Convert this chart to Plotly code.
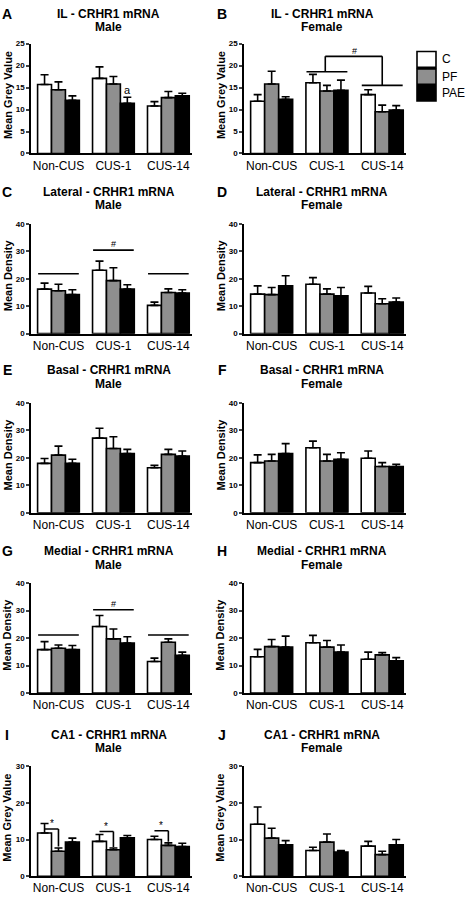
import plotly.graph_objects as go

# ---------------- data ----------------
groups = ["Non-CUS", "CUS-1", "CUS-14"]
series = ["C", "PF", "PAE"]
colors = ["#ffffff", "#8f8f8f", "#000000"]

# means / SEM, one list per series (C, PF, PAE) across groups
il_male_mean = [[15.7, 17.1, 10.8], [14.5, 15.8, 12.7], [12.1, 11.4, 13.1]]
il_male_sem = [[2.2, 2.6, 1.0], [1.8, 1.7, 1.4], [1.0, 1.4, 0.6]]

il_female_mean = [[11.9, 16.1, 13.4], [15.8, 14.2, 9.5], [12.3, 14.4, 9.9]]
il_female_sem = [[1.5, 1.9, 1.1], [2.9, 1.3, 1.5], [0.6, 2.3, 1.0]]

lat_male_mean = [[16.2, 23.1, 10.3], [15.6, 19.3, 15.0], [14.2, 16.2, 14.8]]
lat_male_sem = [[2.2, 3.3, 1.2], [2.4, 4.7, 1.3], [1.8, 1.6, 1.2]]

lat_female_mean = [[14.4, 18.0, 14.8], [14.2, 14.4, 10.9], [17.4, 13.8, 11.5]]
lat_female_sem = [[3.0, 2.4, 2.4], [2.6, 1.9, 1.8], [3.7, 3.0, 1.5]]

bas_male_mean = [[18.0, 27.2, 16.4], [21.0, 23.4, 21.3], [18.0, 21.6, 20.7]]
bas_male_sem = [[1.8, 3.6, 0.9], [3.3, 4.3, 1.8], [1.5, 1.5, 1.8]]

bas_female_mean = [[18.3, 23.7, 19.9], [18.9, 18.9, 16.9], [21.6, 19.5, 16.9]]
bas_female_sem = [[2.8, 2.4, 2.6], [2.4, 2.4, 1.4], [3.6, 2.4, 0.8]]

med_male_mean = [[15.8, 24.2, 11.5], [16.3, 19.7, 18.5], [15.8, 18.2, 13.7]]
med_male_sem = [[2.9, 4.0, 1.2], [1.2, 3.6, 1.2], [1.5, 2.3, 1.2]]

med_female_mean = [[13.2, 18.3, 12.3], [16.9, 16.7, 13.9], [16.7, 14.9, 11.7]]
med_female_sem = [[2.7, 2.7, 2.6], [2.6, 2.4, 0.8], [4.0, 2.6, 1.2]]

ca1_male_mean = [[11.8, 9.5, 10.0], [6.8, 7.2, 8.4], [9.3, 10.5, 8.1]]
ca1_male_sem = [[2.6, 1.9, 0.9], [0.9, 0.5, 0.7], [1.1, 0.6, 0.9]]

ca1_female_mean = [[14.2, 7.0, 8.2], [10.4, 9.3, 5.9], [8.6, 6.6, 8.6]]
ca1_female_sem = [[4.7, 0.9, 1.3], [2.7, 2.2, 0.9], [1.1, 0.4, 1.4]]

panel_letters = ["A", "B", "C", "D", "E", "F", "G", "H", "I", "J"]
panel_regions = ["IL", "IL", "Lateral", "Lateral", "Basal", "Basal",
                 "Medial", "Medial", "CA1", "CA1"]
panel_sex = ["Male", "Female"] * 5
y_titles = ["Mean Grey Value"] * 2 + ["Mean Density"] * 6 + ["Mean Grey Value"] * 2
y_max = [25, 25, 40, 40, 40, 40, 40, 40, 30, 30]
y_dtick = [5, 5, 10, 10, 10, 10, 10, 10, 10, 10]

panel_means = [il_male_mean, il_female_mean, lat_male_mean, lat_female_mean,
               bas_male_mean, bas_female_mean, med_male_mean, med_female_mean,
               ca1_male_mean, ca1_female_mean]
panel_sems = [il_male_sem, il_female_sem, lat_male_sem, lat_female_sem,
              bas_male_sem, bas_female_sem, med_male_sem, med_female_sem,
              ca1_male_sem, ca1_female_sem]

# ---------------- layout geometry (pixels) ----------------
W, H = 465, 900
FONT = "Liberation Sans, Arial, sans-serif"
col_x = [(31, 192), (244, 406)]
row_y = [(40, 151), (222, 333), (403, 514), (585, 696), (770, 881)]
title_off = [(30, 17), (32, 19), (33, 19), (32, 18), (32, 18)]
XR = [-0.5, 2.43]
BW = 0.76 / 3  # bar width in data units (bargap 0.24)


def px(x):
    return x / W


def py(y):
    return 1 - y / H


fig = go.Figure()
layout = dict(
    width=W, height=H, margin=dict(l=0, r=0, t=0, b=0),
    paper_bgcolor="white", plot_bgcolor="white",
    barmode="group", bargap=0.24, bargroupgap=0,
    font=dict(family=FONT, color="black"),
    showlegend=False,
)
annotations = []
shapes = []


def ann(x, y, text, size, xanchor="center", angle=0, xref="paper", yref="paper"):
    annotations.append(dict(x=x, y=y, xref=xref, yref=yref, text=text,
                            showarrow=False, textangle=angle,
                            font=dict(size=size, family=FONT, color="black"),
                            xanchor=xanchor, yanchor="middle"))


for i in range(10):
    n = i + 1
    col = i % 2
    row = i // 2
    xs = "" if n == 1 else str(n)
    x0, x1 = col_x[col]
    top, bot = row_y[row]
    for s in range(3):
        fig.add_trace(go.Bar(
            x=[0, 1, 2], y=panel_means[i][s], name=series[s],
            marker=dict(color=colors[s], line=dict(color="black", width=1.6)),
            error_y=dict(type="data", symmetric=False, array=panel_sems[i][s],
                         arrayminus=[0, 0, 0], color="black", thickness=1.6, width=4),
            xaxis="x" + xs, yaxis="y" + xs, legendgroup=series[s],
        ))
    layout["xaxis" + xs] = dict(
        domain=[px(x0), px(x1)], anchor="y" + xs, range=XR,
        tickvals=[0, 1, 2], ticktext=groups, ticks="",
        tickfont=dict(size=12, family=FONT),
        showline=True, linecolor="black", linewidth=1.6,
        showgrid=False, zeroline=False, fixedrange=True,
    )
    layout["yaxis" + xs] = dict(
        domain=[py(bot), py(top)], anchor="x" + xs, range=[0, y_max[i]],
        dtick=y_dtick[i], ticks="outside", ticklen=3, tickwidth=1.6,
        tickfont=dict(size=8, family=FONT, weight="bold"),
        showline=True, linecolor="black", linewidth=1.6,
        showgrid=False, zeroline=False, fixedrange=True,
    )
    # y-axis title
    ann(px(x0 - 23.5), py((top + bot) / 2 - 3), "<b>%s</b>" % y_titles[i], 11, angle=-90)
    # panel title (two lines)
    cx = (x0 + x1) / 2 - 3
    o1, o2 = title_off[row]
    ann(px(cx), py(top - o1), "<b>%s - CRHR1 mRNA</b>" % panel_regions[i], 12)
    ann(px(cx), py(top - o2), "<b>%s</b>" % panel_sex[i], 12)
    # panel letter
    ann(px(7 if col == 0 else 222), py(top - o1), "<b>%s</b>" % panel_letters[i], 14)

# ---------------- legend (drawn) ----------------
leg_boxes = [(48, 64), (65.5, 81), (82.5, 98)]
for s in range(3):
    yt, yb = leg_boxes[s]
    shapes.append(dict(type="rect", xref="paper", yref="paper",
                       x0=px(417), x1=px(436), y0=py(yb), y1=py(yt),
                       fillcolor=colors[s], line=dict(color="black", width=1.6)))
    ann(px(440), py((yt + yb) / 2), series[s], 12, xanchor="left")


def seg(ax, xa, ya, xb, yb):
    shapes.append(dict(type="line", xref="x" + ax, yref="y" + ax,
                       x0=xa, y0=ya, x1=xb, y1=yb,
                       line=dict(color="black", width=1.6)))


def txt(ax, x, y, t, size=9):
    ann(x, y, t, size, xref="x" + ax, yref="y" + ax)


# Panel A: "a"
txt("", 1 + BW, 14.4, "a", 11)

# Panel B: bracket between CUS-1 and CUS-14
seg("2", 0.63, 18.6, 1.37, 18.6)
seg("2", 1.63, 15.5, 2.37, 15.5)
seg("2", 0.97, 18.6, 0.97, 22.1)
seg("2", 0.97, 22.1, 2.0, 22.1)
seg("2", 2.0, 22.1, 2.0, 15.5)
txt("2", 1.5, 23.4, "#", 9)

# Panel C: group lines
for g, yv in zip([0, 1, 2], [21.8, 30.4, 21.8]):
    seg("3", g - 0.37, yv, g + 0.37, yv)
txt("3", 1.0, 32.6, "#", 9)

# Panel G: group lines
for g, yv in zip([0, 1, 2], [21.1, 30.3, 21.1]):
    seg("7", g - 0.37, yv, g + 0.37, yv)
txt("7", 1.0, 32.4, "#", 9)

# Panel I: C vs PF brackets
for g, yv, yend in zip([0, 1, 2], [12.9, 12.2, 12.4], [8.1, 8.0, 9.4]):
    seg("9", g - BW, yv, g, yv)
    seg("9", g, yv, g, yend)
    txt("9", g - BW / 2, yv + 1.5, "*", 10)

layout["annotations"] = annotations
layout["shapes"] = shapes
fig.update_layout(**layout)
fig.write_html("out.html", config={"displayModeBar": False},
               post_script="document.body.style.margin='0px';")
